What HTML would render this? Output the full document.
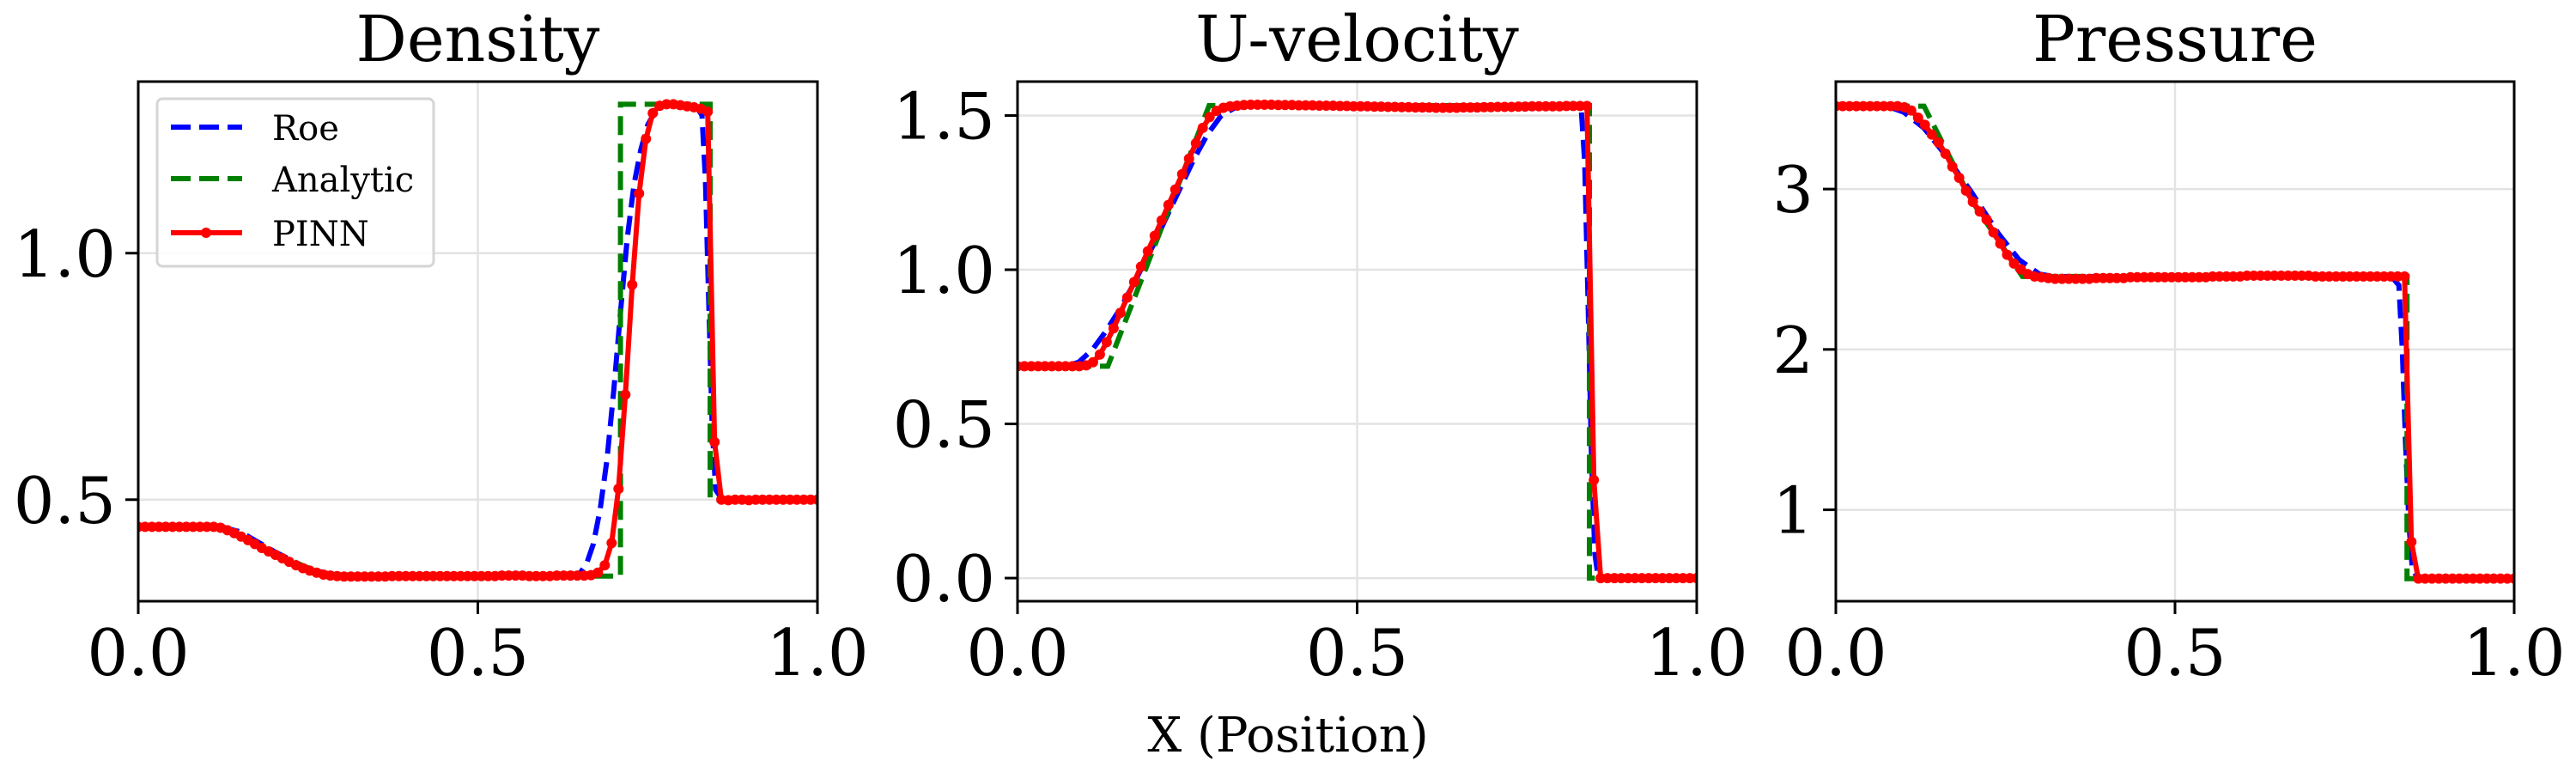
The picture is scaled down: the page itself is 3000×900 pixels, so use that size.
<!DOCTYPE html>
<html><head><meta charset="utf-8"><style>
html,body{margin:0;padding:0;background:#fff;}
svg{display:block;}
text{font-family:"DejaVu Serif","Liberation Serif",serif;fill:#000;}
</style></head>
<body>
<svg id="fig" width="3000" height="900" viewBox="0 0 3000 900" xmlns="http://www.w3.org/2000/svg"></svg>
<script>
// ---- data ----
const pinnDensity = [0.445,0.445,0.445,0.445,0.445,0.445,0.445,0.445,0.445,0.445,0.445,0.445,0.443,0.438,0.432,0.425,0.418,0.410,0.402,0.395,0.388,0.381,0.374,0.367,0.361,0.356,0.352,0.348,0.346,0.345,0.344,0.344,0.344,0.344,0.344,0.344,0.344,0.345,0.345,0.345,0.345,0.345,0.345,0.345,0.345,0.345,0.345,0.345,0.345,0.345,0.345,0.345,0.345,0.346,0.346,0.346,0.346,0.345,0.345,0.345,0.345,0.346,0.346,0.346,0.346,0.346,0.347,0.352,0.367,0.412,0.522,0.713,0.936,1.121,1.232,1.284,1.299,1.302,1.302,1.300,1.298,1.296,1.293,1.287,0.617,0.500,0.499,0.500,0.500,0.499,0.500,0.500,0.500,0.500,0.500,0.500,0.500,0.500,0.500,0.500];
const pinnVelocity = [0.687,0.687,0.687,0.687,0.687,0.687,0.687,0.687,0.687,0.687,0.690,0.700,0.725,0.765,0.810,0.860,0.910,0.960,1.010,1.060,1.110,1.160,1.210,1.260,1.310,1.360,1.410,1.460,1.495,1.515,1.525,1.530,1.532,1.534,1.535,1.535,1.535,1.535,1.534,1.534,1.534,1.533,1.533,1.533,1.532,1.532,1.532,1.531,1.531,1.530,1.530,1.530,1.529,1.529,1.528,1.528,1.527,1.527,1.526,1.526,1.526,1.525,1.525,1.525,1.525,1.526,1.526,1.526,1.527,1.527,1.528,1.528,1.528,1.529,1.529,1.530,1.530,1.530,1.530,1.530,1.531,1.531,1.531,1.531,0.318,0.0,0.0,0.0,0.0,0.0,0.0,0.0,0.0,0.0,0.0,0.0,0.0,0.0,0.0,0.0];
const pinnPressure = [3.517,3.517,3.517,3.517,3.517,3.517,3.517,3.517,3.517,3.517,3.51,3.49,3.445,3.40,3.34,3.29,3.22,3.14,3.07,2.99,2.92,2.86,2.81,2.73,2.66,2.59,2.535,2.50,2.47,2.455,2.45,2.445,2.44,2.44,2.44,2.44,2.44,2.44,2.445,2.445,2.445,2.445,2.445,2.45,2.45,2.45,2.45,2.45,2.45,2.45,2.45,2.45,2.45,2.45,2.45,2.455,2.455,2.455,2.455,2.455,2.46,2.46,2.46,2.46,2.46,2.46,2.46,2.46,2.46,2.46,2.455,2.455,2.455,2.455,2.455,2.455,2.455,2.455,2.455,2.455,2.455,2.455,2.455,2.455,0.80,0.571,0.571,0.571,0.571,0.571,0.571,0.571,0.571,0.571,0.571,0.571,0.571,0.571,0.571,0.571];

const roeDensityX = [0,0.12,0.15,0.2,0.25,0.28,0.3,0.64,0.65,0.66,0.67,0.68,0.69,0.70,0.71,0.72,0.73,0.74,0.75,0.76,0.78,0.82,0.83,0.835,0.84,0.845,0.85,0.86,1];
const roeDensityY = [0.445,0.445,0.435,0.395,0.36,0.35,0.346,0.345,0.35,0.37,0.41,0.48,0.58,0.72,0.88,1.03,1.14,1.21,1.26,1.285,1.30,1.30,1.28,1.15,0.9,0.65,0.52,0.50,0.50];
const roeVelocityX = [0,0.07,0.09,0.11,0.13,0.15,0.17,0.2,0.23,0.26,0.28,0.30,0.32,0.34,0.82,0.83,0.835,0.84,0.845,0.85,0.855,1];
const roeVelocityY = [0.687,0.687,0.70,0.74,0.80,0.87,0.95,1.08,1.22,1.36,1.44,1.50,1.525,1.532,1.532,1.52,1.35,0.9,0.4,0.08,0.0,0.0];
const roePressureX = [0,0.08,0.1,0.13,0.16,0.2,0.24,0.27,0.30,0.32,0.82,0.83,0.835,0.84,0.845,0.85,0.86,1];
const roePressureY = [3.517,3.51,3.48,3.38,3.22,2.98,2.72,2.56,2.47,2.455,2.45,2.40,2.0,1.4,0.9,0.62,0.571,0.571];

const anaDensityX = [0,0.125,0.2,0.28,0.71,0.71,0.842,0.842,1];
const anaDensityY = [0.445,0.445,0.39,0.345,0.345,1.302,1.302,0.5,0.5];
const anaVelocityX = [0,0.133,0.282,0.842,0.842,1];
const anaVelocityY = [0.687,0.687,1.532,1.532,0,0];
const anaPressureX = [0,0.13,0.2,0.275,0.842,0.842,1];
const anaPressureY = [3.517,3.517,2.93,2.455,2.455,0.571,0.571];

const xTicks = [0,0.5,1];
const xTickLabels = ["0.0","0.5","1.0"];
const densityTicks = [0.5,1.0];
const densityTickLabels = ["0.5","1.0"];
const velocityTicks = [0,0.5,1.0,1.5];
const velocityTickLabels = ["0.0","0.5","1.0","1.5"];
const pressureTicks = [1,2,3];
const pressureTickLabels = ["1","2","3"];
const titles = ["Density","U-velocity","Pressure"];

const NS = "http://www.w3.org/2000/svg";
const svg = document.getElementById('fig');
function mk(tag, attrs, parent){
  const e = document.createElementNS(NS, tag);
  for (const k in attrs) e.setAttribute(k, attrs[k]);
  (parent||svg).appendChild(e);
  return e;
}

const panels = [
  {name:"density", left:161, right:952, ymin:0.294, ymax:1.348, ticks:densityTicks, labels:densityTickLabels, pinn:pinnDensity, roeX:roeDensityX, roeY:roeDensityY, anaX:anaDensityX, anaY:anaDensityY},
  {name:"velocity", left:1185, right:1976, ymin:-0.075, ymax:1.61, ticks:velocityTicks, labels:velocityTickLabels, pinn:pinnVelocity, roeX:roeVelocityX, roeY:roeVelocityY, anaX:anaVelocityX, anaY:anaVelocityY},
  {name:"pressure", left:2138, right:2928, ymin:0.43, ymax:3.67, ticks:pressureTicks, labels:pressureTickLabels, pinn:pinnPressure, roeX:roePressureX, roeY:roePressureY, anaX:anaPressureX, anaY:anaPressureY}
];
const TOP = 95, BOTTOM = 700;

panels.forEach((p, pi) => {
  const g = mk('g', {});
  
  
  const sx = v => p.left + v * (p.right - p.left);
  const sy = v => BOTTOM - (v - p.ymin) / (p.ymax - p.ymin) * (BOTTOM - TOP);

  xTicks.forEach(t => {
    const l = mk('line', {x1:sx(t), x2:sx(t), y1:TOP, y2:BOTTOM, stroke:'#e3e3e3', 'stroke-width':2.5}, g);
    
    
  });
  p.ticks.forEach(t => {
    const l = mk('line', {x1:p.left, x2:p.right, y1:sy(t), y2:sy(t), stroke:'#e3e3e3', 'stroke-width':2.5}, g);
    
    
  });

  const cp = mk('clipPath', {id:'clip'+pi}, g);
  mk('rect', {x:p.left, y:TOP, width:p.right-p.left, height:BOTTOM-TOP}, cp);
  const plot = mk('g', {'clip-path':'url(#clip'+pi+')'}, g);

  const pts = (xs, ys) => xs.map((x,i)=> sx(x).toFixed(1)+','+sy(ys[i]).toFixed(1)).join(' ');
  const roe = mk('polyline', {points:pts(p.roeX,p.roeY), fill:'none', stroke:'#0000ff', 'stroke-width':6, 'stroke-dasharray':'22 10'}, plot);
  
  
  const ana = mk('polyline', {points:pts(p.anaX,p.anaY), fill:'none', stroke:'#008000', 'stroke-width':6, 'stroke-dasharray':'22 10'}, plot);
  
  
  const px = p.pinn.map((v,i)=> i/(p.pinn.length-1));
  const pl = mk('polyline', {points:pts(px,p.pinn), fill:'none', stroke:'#ff0000', 'stroke-width':6, 'stroke-linejoin':'round'}, plot);
  
  
  p.pinn.forEach((v,i) => {
    const c = mk('circle', {cx:sx(px[i]), cy:sy(v), r:6, fill:'#ff0000'}, plot);
    
    
  });

  const fr = mk('rect', {x:p.left, y:TOP, width:p.right-p.left, height:BOTTOM-TOP, fill:'none', stroke:'#000', 'stroke-width':3}, g);
  
  

  xTicks.forEach((t,i) => {
    mk('line', {x1:sx(t), x2:sx(t), y1:BOTTOM, y2:BOTTOM+15, stroke:'#000', 'stroke-width':3}, g);
    const tx = mk('text', {x:sx(t), y:786, 'font-size':75, 'text-anchor':'middle'}, g);
    tx.textContent = xTickLabels[i];
    
    
  });
  p.ticks.forEach((t,i) => {
    mk('line', {x1:p.left-15, x2:p.left, y1:sy(t), y2:sy(t), stroke:'#000', 'stroke-width':3}, g);
    const tx = mk('text', {x:p.left-26, y:sy(t)+27, 'font-size':75, 'text-anchor':'end'}, g);
    tx.textContent = p.labels[i];
    
    
  });
  const tt = mk('text', {x:(p.left+p.right)/2, y:71, 'font-size':74, 'text-anchor':'middle'}, g);
  tt.textContent = titles[pi];
  
  
});

const xl = mk('text', {x:1500, y:875, 'font-size':56, 'text-anchor':'middle'});
xl.textContent = 'X (Position)';



const lg = mk('g', {});


mk('rect', {x:183, y:115, width:322, height:195, rx:6, fill:'#fff', 'fill-opacity':0.85, stroke:'#d5d5d5', 'stroke-width':3}, lg);
const legNames = ["Roe","Analytic","PINN"];
const legColors = ["#0000ff","#008000","#ff0000"];
const legLineY = [148,208,271];
legNames.forEach((n,i) => {
  const e = mk('g', {}, lg);
  
  
  const attrs = {x1:199, x2:282, y1:legLineY[i], y2:legLineY[i], stroke:legColors[i], 'stroke-width':6};
  if (i < 2) attrs['stroke-dasharray'] = '23 10';
  mk('line', attrs, e);
  if (i === 2) mk('circle', {cx:240, cy:legLineY[i], r:6, fill:'#ff0000'}, e);
  const t = mk('text', {x:317, y:legLineY[i]+15, 'font-size':40}, e);
  t.textContent = n;
});
</script>
</body></html>
